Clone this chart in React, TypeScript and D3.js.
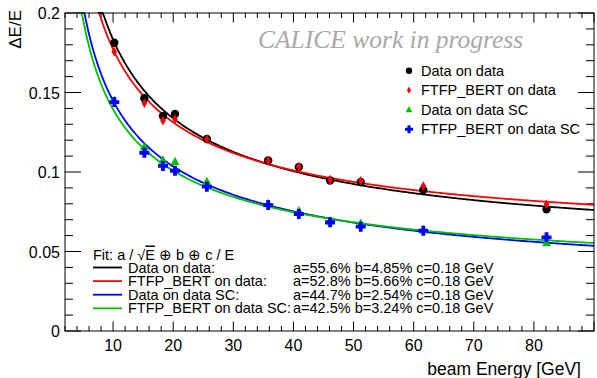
import React from 'react';
import * as d3 from 'd3';

// beam energies of the points (GeV) and resolution values per sample
const energies = [10.2, 15.2, 18.3, 20.3, 25.6, 35.8, 40.9, 46.1, 51.2, 61.6, 82.1];
const dataOnData = [0.1813, 0.1464, 0.1352, 0.1365, 0.1208, 0.1072, 0.1031, 0.0947, 0.0937, 0.0887, 0.0765];
const ftfpOnData = [0.1757, 0.1432, 0.1323, 0.1333, 0.1206, 0.107, 0.1033, 0.0952, 0.0945, 0.0912, 0.0797];
const dataOnDataSC = [0.145, 0.1159, 0.1075, 0.1065, 0.0939, 0.08, 0.0755, 0.069, 0.0677, 0.0635, 0.0555];
const ftfpOnDataSC = [0.144, 0.1121, 0.1038, 0.1008, 0.0908, 0.0792, 0.0736, 0.0684, 0.0656, 0.0631, 0.0589];

// fit parameters: a [%], b [%], c [GeV]
const seriesNames = ['Data on data', 'FTFP_BERT on data', 'Data on data SC', 'FTFP_BERT on data SC'];
const fitA = [55.6, 52.8, 44.7, 42.5];
const fitB = [4.85, 5.66, 2.54, 3.24];
const fitC = [0.18, 0.18, 0.18, 0.18];
const fitStart = [7.5, 7.5, 4, 4];

const xTicks = [10, 20, 30, 40, 50, 60, 70, 80];
const yTicks = [0, 0.05, 0.1, 0.15, 0.2];

const colors = ['#000000', '#ff0000', '#0000ff', '#00c000'];
const font = 'Liberation Sans, Arial, Helvetica, sans-serif';

const W = 597;
const H = 378;
const L = 65;
const R = 594;
const T = 13;
const B = 331;

const x = d3.scaleLinear().domain([2, 90]).range([L, R]);
const y = d3.scaleLinear().domain([0, 0.2]).range([B, T]);

const marker = (kind: string, s: number) => {
  if (kind === 'circle') return d3.symbol().type(d3.symbolCircle).size(Math.PI * s * s)();
  if (kind === 'diamond') return `M0,${-s * 1.2}L${s * 0.7},0L0,${s * 1.2}L${-s * 0.7},0Z`;
  if (kind === 'triangle') return `M0,${-s * 1.1}L${s},${s * 0.75}L${-s},${s * 0.75}Z`;
  const w = s * 0.38;
  return `M${-w},${-s}H${w}V${-w}H${s}V${w}H${w}V${s}H${-w}V${w}H${-s}V${-w}H${-w}Z`;
};

const App = () => {
  const res = (i: number, e: number) => {
    const a = fitA[i] / 100 / Math.sqrt(e);
    const b = fitB[i] / 100;
    const c = fitC[i] / e;
    return Math.min(0.2, Math.sqrt(a * a + b * b + c * c));
  };
  const line = d3.line<number>().x((d) => x(d[0])).y((d) => y(d[1]));
  const curves = fitA.map((_, i) => {
    const pts: number[][] = [];
    for (let e = fitStart[i]; e <= 90; e += 0.25) pts.push([e, res(i, e)]);
    return line(pts as any);
  });

  const series = [
    { vals: dataOnData, kind: 'circle', s: 4.2, color: colors[0] },
    { vals: ftfpOnData, kind: 'diamond', s: 4, color: colors[1] },
    { vals: dataOnDataSC, kind: 'triangle', s: 4.5, color: colors[3] },
    { vals: ftfpOnDataSC, kind: 'cross', s: 5, color: colors[2] },
  ];
  const legend = [
    { name: seriesNames[0], kind: 'circle', s: 3.2, color: colors[0] },
    { name: seriesNames[1], kind: 'diamond', s: 3, color: colors[1] },
    { name: seriesNames[2], kind: 'triangle', s: 3.4, color: colors[3] },
    { name: seriesNames[3], kind: 'cross', s: 4, color: colors[2] },
  ];

  const xMinor = d3.range(2, 90.01, 2);
  const yMinor = d3.range(0, 0.2001, 0.01);

  return (
    <svg width={W} height={H} style={{ position: 'absolute', left: 0, top: 0, background: '#fff' }}>
      <defs>
        <clipPath id="frame">
          <rect x={L} y={T - 1} width={R - L} height={B - T + 1} />
        </clipPath>
      </defs>

      {/* ticks */}
      <g stroke="#000" strokeWidth={1}>
        {xMinor.map((t) => {
          const major = t % 10 === 0;
          const len = major ? 9.5 : 5;
          return (
            <g key={'x' + t}>
              <line x1={x(t)} x2={x(t)} y1={B} y2={B - len} />
              <line x1={x(t)} x2={x(t)} y1={T} y2={T + len} />
            </g>
          );
        })}
        {yMinor.map((t, i) => {
          const major = i % 5 === 0;
          const len = major ? 16 : 8;
          return (
            <g key={'y' + i}>
              <line x1={L} x2={L + len} y1={y(t)} y2={y(t)} />
              <line x1={R} x2={R - len} y1={y(t)} y2={y(t)} />
            </g>
          );
        })}
      </g>

      {/* curves */}
      <g clipPath="url(#frame)" fill="none" strokeWidth={1.8}>
        {[0, 1, 2, 3].map((i) => (
          <path key={i} d={curves[i] || ''} stroke={colors[i]} />
        ))}
      </g>

      {/* points */}
      {series.map((s, si) => (
        <g key={si} fill={s.color}>
          {s.vals.map((v, j) => (
            <path key={j} d={marker(s.kind, s.s) || ''} transform={`translate(${x(energies[j])},${y(v)})`} />
          ))}
        </g>
      ))}

      <rect x={L} y={T} width={R - L} height={B - T} fill="none" stroke="#000" strokeWidth={1} />

      {/* tick labels */}
      <g fontFamily={font} fontSize={16} fill="#000">
        {xTicks.map((t) => (
          <text key={t} x={x(t)} y={B + 20} textAnchor="middle">{t}</text>
        ))}
        {yTicks.map((t) => (
          <text key={t} x={L - 5} y={y(t) + 6} textAnchor="end">{d3.format('~g')(t)}</text>
        ))}
      </g>

      <text x={581} y={375} textAnchor="end" fontFamily={font} fontSize={17.5}>beam Energy [GeV]</text>
      <text transform="translate(21,10) rotate(-90)" textAnchor="end" fontFamily={font} fontSize={17}>ΔE/E</text>

      <text x={258} y={48} fontFamily="Liberation Serif, Times New Roman, serif" fontStyle="italic" fontSize={25.5} fill="#a8a8a8">
        CALICE work in progress
      </text>

      {/* marker legend */}
      <g fontFamily={font} fontSize={14.5}>
        {legend.map((l, i) => {
          const cy = 70.7 + i * 19.5;
          return (
            <g key={i}>
              <path d={marker(l.kind, l.s) || ''} fill={l.color} transform={`translate(409,${cy})`} />
              <text x={421} y={cy + 5}>{l.name}</text>
            </g>
          );
        })}
      </g>

      {/* fit legend */}
      <g fontFamily={font} fontSize={14.5}>
        <text x={93} y={259.5}>
          Fit: a / √<tspan style={{ textDecoration: 'overline' }}>E</tspan> ⊕ b ⊕ c / E
        </text>
        {seriesNames.map((n, i) => {
          const cy = 267.5 + i * 13.6;
          return (
            <g key={n}>
              <line x1={93} x2={122} y1={cy} y2={cy} stroke={colors[i]} strokeWidth={1.8} />
              <text x={128} y={cy + 5}>{n}:</text>
              <text x={293} y={cy + 5}>{`a=${fitA[i]}% b=${fitB[i]}% c=${fitC[i]} GeV`}</text>
            </g>
          );
        })}
      </g>
    </svg>
  );
};

export default App;
